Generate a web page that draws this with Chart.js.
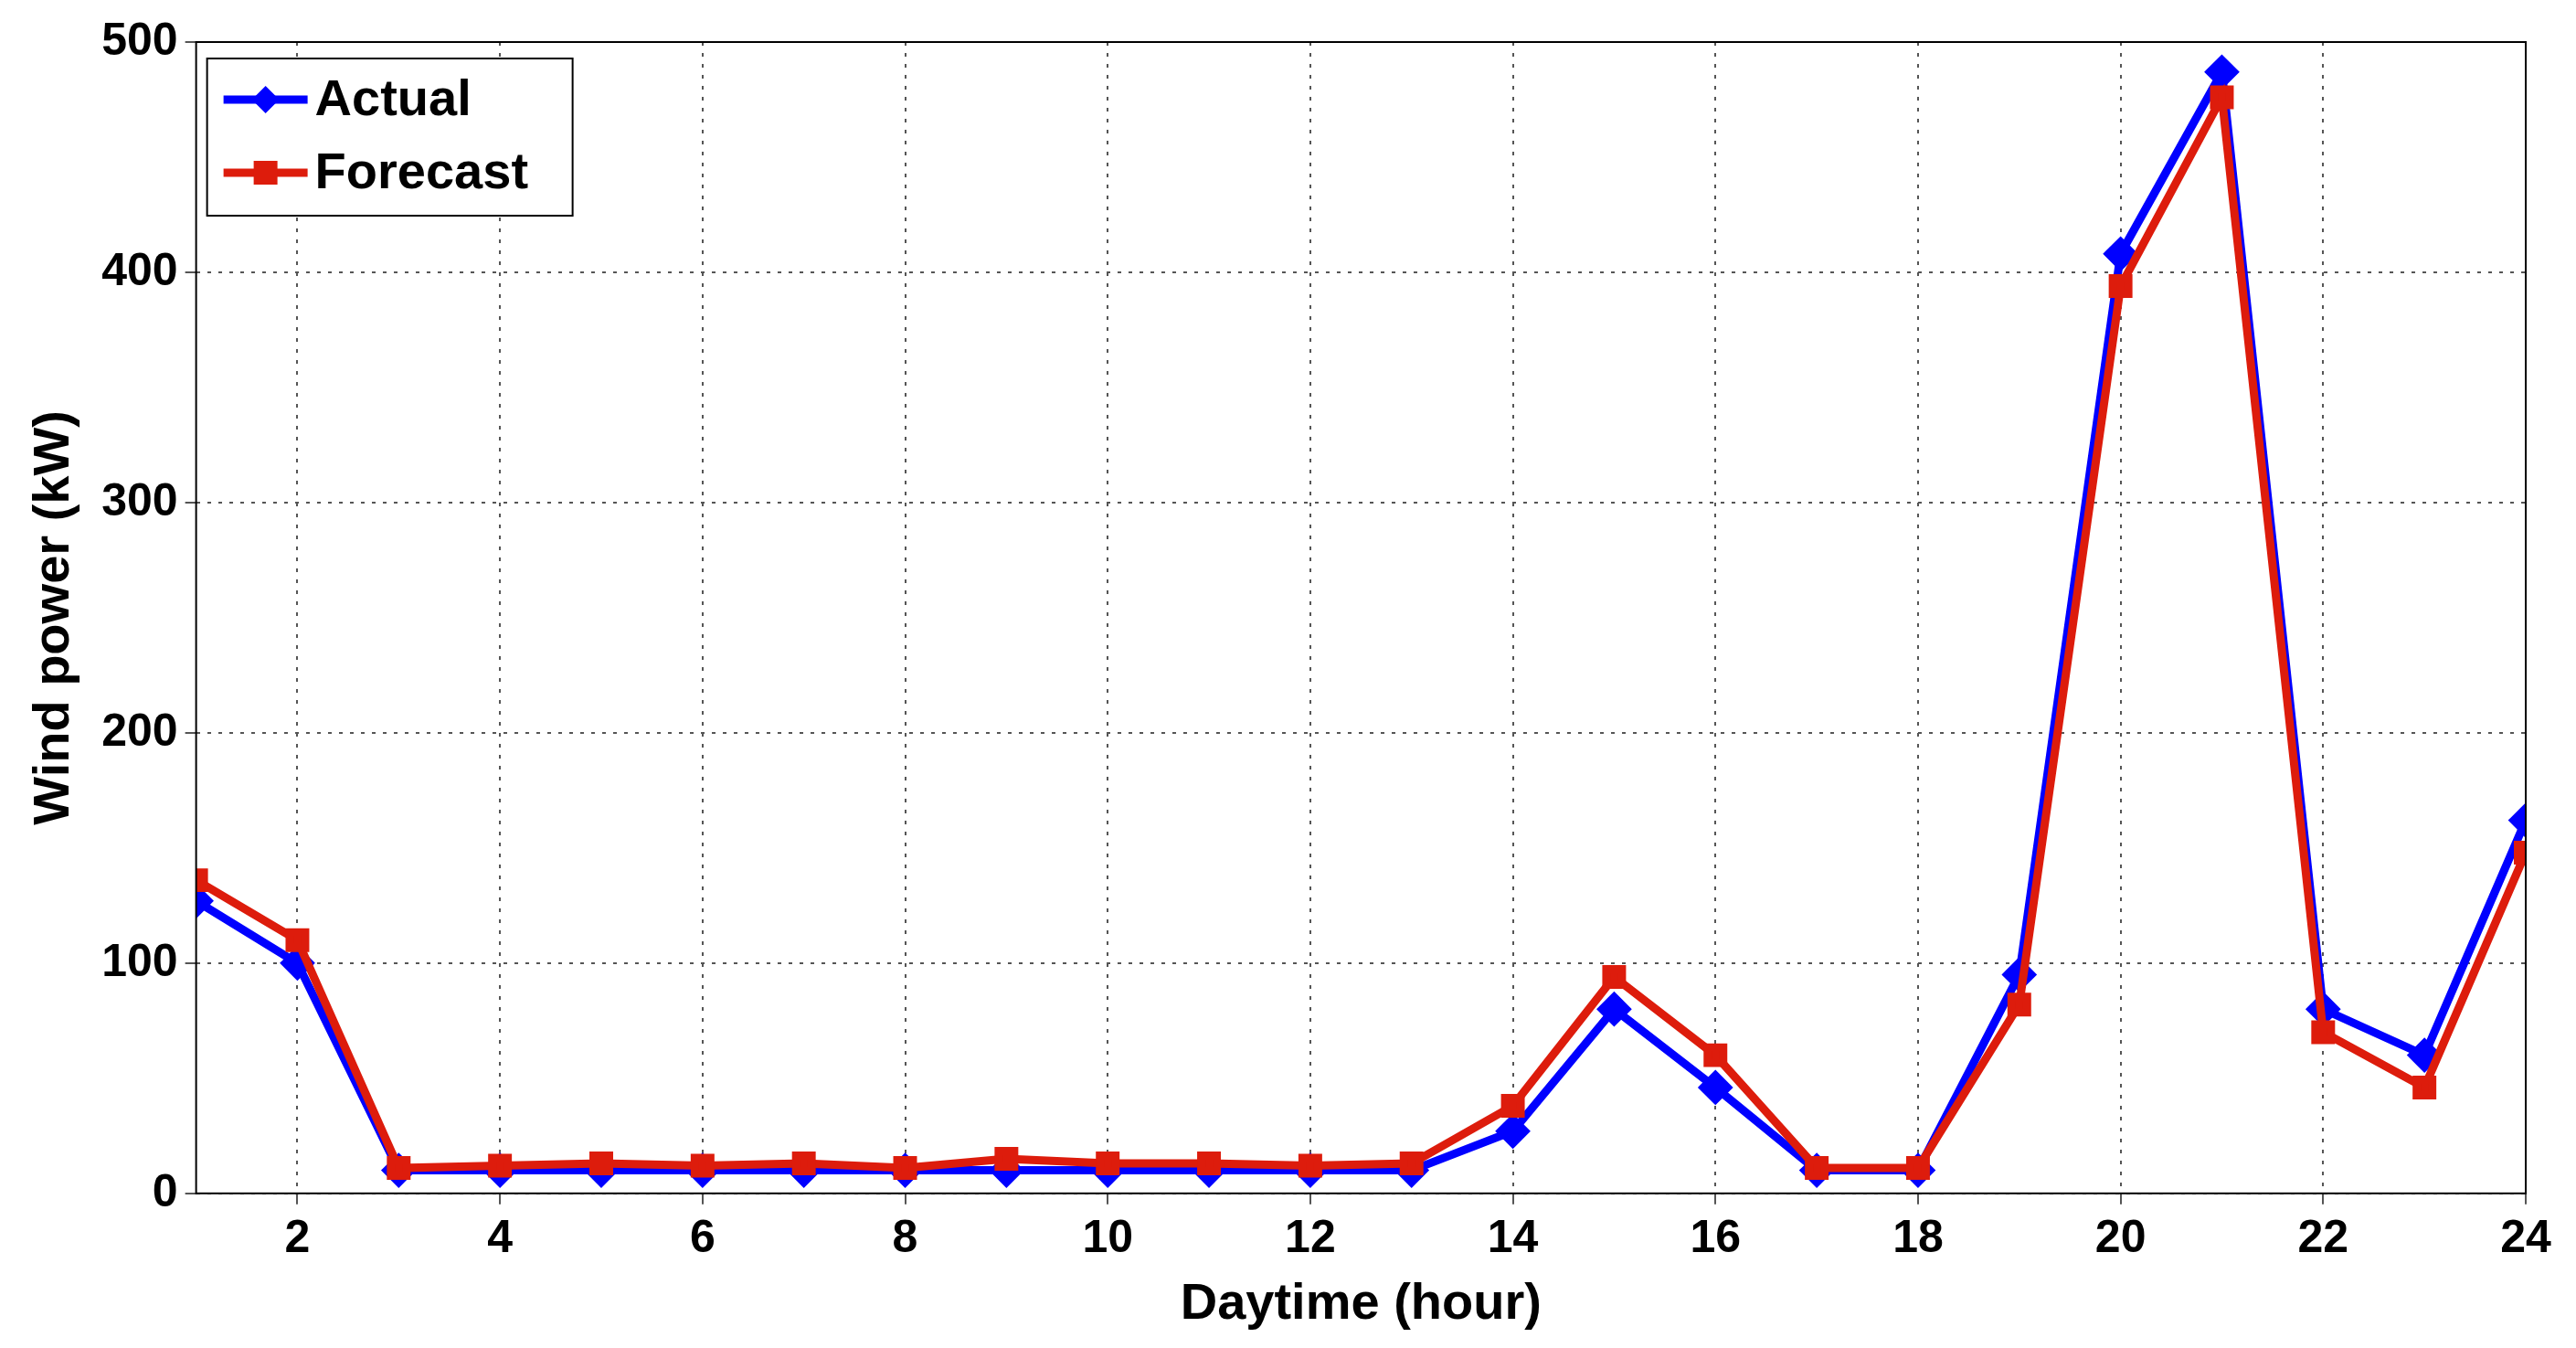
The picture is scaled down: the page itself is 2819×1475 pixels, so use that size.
<!DOCTYPE html>
<html lang="en">
<head>
<meta charset="UTF-8">
<title>Wind power</title>
<script src="https://cdn.jsdelivr.net/npm/chart.js"></script>
<style>
  html, body { margin: 0; padding: 0; background: #fff; }
  #wrap { width: 2819px; height: 1475px; position: relative; }
</style>
</head>
<body>
<div id="wrap"><canvas id="windChart"></canvas></div>
<script>
const hours = [1,2,3,4,5,6,7,8,9,10,11,12,13,14,15,16,17,18,19,20,21,22,23,24];
const actual = [127,100,10,10,10,10,10,10,10,10,10,10,10,27,80,46,10,10,95,408,487,80,60,162];
const forecast = [136,110,11,12,13,12,13,11,15,13,13,12,13,38,94,60,11,11,82,394,476,70,46,148];
const xTicks = [2,4,6,8,10,12,14,16,18,20,22,24];

const font = "'Liberation Sans', Arial, sans-serif";

// frame + legend box, drawn like the matlab figure
const framePlugin = {
    id: 'frame',
    afterDraw(chart) {
        const { ctx, chartArea: a } = chart;
        ctx.save();
        ctx.strokeStyle = '#000';
        ctx.lineWidth = 2;
        ctx.strokeRect(a.left, a.top, a.right - a.left, a.bottom - a.top);

        // legend
        const x = a.left + 12, y = a.top + 18, w = 400, h = 172;
        ctx.fillStyle = '#fff';
        ctx.fillRect(x, y, w, h);
        ctx.strokeRect(x, y, w, h);
        const items = [['Actual', '#0000ff', 'diamond'], ['Forecast', '#dd1c0c', 'square']];
        items.forEach((it, i) => {
            const cy = y + 45 + i * 80;
            ctx.strokeStyle = it[1];
            ctx.fillStyle = it[1];
            ctx.lineWidth = 9;
            ctx.beginPath();
            ctx.moveTo(x + 18, cy);
            ctx.lineTo(x + 110, cy);
            ctx.stroke();
            ctx.beginPath();
            if (it[2] === 'diamond') {
                ctx.moveTo(x + 64, cy - 15); ctx.lineTo(x + 79, cy);
                ctx.lineTo(x + 64, cy + 15); ctx.lineTo(x + 49, cy);
            } else {
                ctx.rect(x + 51, cy - 13, 26, 26);
            }
            ctx.fill();
            ctx.fillStyle = '#000';
            ctx.font = 'bold 56px ' + font;
            ctx.textBaseline = 'middle';
            ctx.fillText(it[0], x + 118, cy + 2);
            ctx.strokeStyle = '#000';
            ctx.lineWidth = 2;
        });
        ctx.restore();
    }
};

new Chart(document.getElementById('windChart'), {
    type: 'line',
    data: {
        datasets: [
            {
                label: 'Forecast',
                data: hours.map((h, i) => ({ x: h, y: forecast[i] })),
                borderColor: '#dd1c0c',
                backgroundColor: '#dd1c0c',
                borderWidth: 9,
                pointStyle: 'rect',
                pointRadius: 12,
                order: 1
            },
            {
                label: 'Actual',
                data: hours.map((h, i) => ({ x: h, y: actual[i] })),
                borderColor: '#0000ff',
                backgroundColor: '#0000ff',
                borderWidth: 9,
                pointStyle: 'rectRot',
                pointRadius: 13,
                order: 2
            }
        ]
    },
    options: {
        responsive: true,
        maintainAspectRatio: false,
        animation: false,
        layout: { padding: { top: 46, right: 55, left: 22, bottom: 10 } },
        plugins: { legend: { display: false }, tooltip: { enabled: false } },
        scales: {
            x: {
                type: 'linear',
                min: 1,
                max: 24,
                afterBuildTicks: axis => { axis.ticks = xTicks.map(v => ({ value: v })); },
                grid: { color: '#555', lineWidth: 2, tickLength: 12 },
                border: { display: false, dash: [4, 8] },
                ticks: { color: '#000', font: { family: font, size: 50, weight: 'bold' }, maxRotation: 0, padding: 8 },
                title: { display: true, text: 'Daytime (hour)', color: '#000', font: { family: font, size: 56, weight: 'bold' }, padding: { top: 0 } }
            },
            y: {
                min: 0,
                max: 500,
                ticks: { stepSize: 100, color: '#000', font: { family: font, size: 50, weight: 'bold' }, padding: 8 },
                grid: { color: '#555', lineWidth: 2, tickLength: 12 },
                border: { display: false, dash: [4, 8] },
                title: { display: true, text: 'Wind power (kW)', color: '#000', font: { family: font, size: 56, weight: 'bold' }, padding: { bottom: 10 } }
            }
        }
    },
    plugins: [framePlugin]
});
</script>
</body>
</html>
